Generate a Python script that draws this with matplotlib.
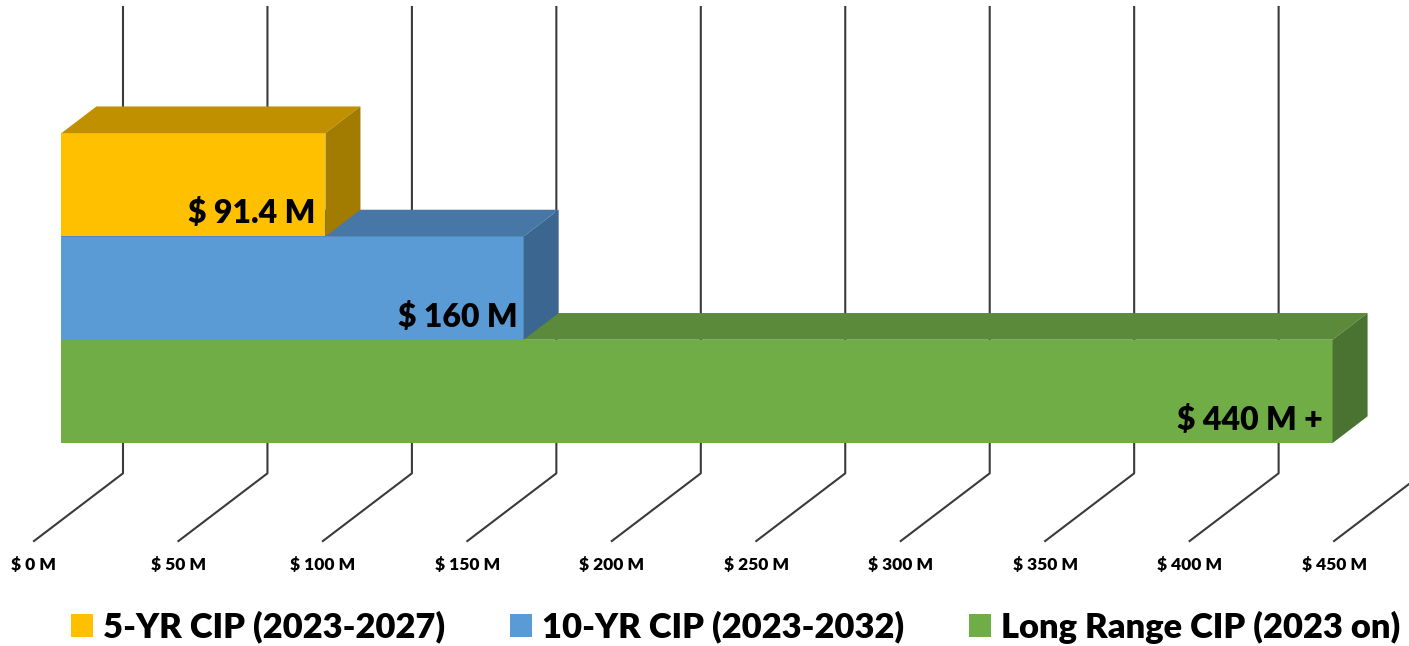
import matplotlib
matplotlib.use("Agg")
import matplotlib.pyplot as plt
from matplotlib.patches import Polygon, Patch
from matplotlib.lines import Line2D
from matplotlib.transforms import IdentityTransform
import numpy as np

# ---- data ----
series = ["5-YR CIP (2023-2027)", "10-YR CIP (2023-2032)", "Long Range CIP (2023 on)"]
values = [91.4, 160, 440]
value_labels = ["\\$ 91.4 M", "\\$ 160 M", "\\$ 440 M +"]
ticks = [0, 50, 100, 150, 200, 250, 300, 350, 400, 450]
tick_labels = ["\\$ 0 M", "\\$ 50 M", "\\$ 100 M", "\\$ 150 M", "\\$ 200 M",
               "\\$ 250 M", "\\$ 300 M", "\\$ 350 M", "\\$ 400 M", "\\$ 450 M"]

# ---- style ----
front_c = ["#FFC000", "#5B9BD5", "#70AD47"]
top_c = ["#C09000", "#4677A7", "#5A8A3A"]
side_c = ["#A27C00", "#3A6690", "#4A7230"]
grid_c = "#3a3a3a"
FONT = "Lato"
WEIGHT = "heavy"

W, H = 1409, 646
fig = plt.figure(figsize=(W / 100, H / 100), dpi=100)
ax = fig.add_axes([0, 0, 1, 1])
ax.set_xlim(-21.25, 466.45)
ax.set_ylim(-2.465, 3.789)
ax.axis("off")

# bar positions (top to bottom: 5yr, 10yr, long range)
ypos = [2, 1, 0]

T = ax.transData
ID = IdentityTransform()
bar_off = np.array([35.0, 26.7])     # depth of bars (px)
wall_off = np.array([61.6, -30.3])   # back wall relative to bar front plane bottom
floor_off = np.array([-27.4, -98.0]) # floor front edge relative to bar front plane bottom

def D(v, y):
    return np.array(T.transform((v, y)))

# gridlines (back wall + floor)
for t, lab in zip(ticks, tick_labels):
    base = D(t, -0.5)
    bx = base[0] + wall_off[0]
    wb = base[1] + wall_off[1]
    fx, fy = base + floor_off
    ax.add_line(Line2D([bx, bx, fx], [H - 7, wb, fy], transform=ID,
                       color=grid_c, lw=1.5, zorder=1, clip_on=False))
    ax.text(fx, fy - 24, lab, transform=ID, ha="center", va="center",
            fontsize=12.5, fontweight=WEIGHT, family=FONT, color="black")

# bars: draw bottom bar first so upper bars occlude top faces
order = [2, 1, 0]
rects = ax.barh([ypos[i] for i in order], [values[i] for i in order], height=1.0,
                color=[front_c[i] for i in order], left=0)
pads = [10, 6, 10]
for k, i in enumerate(order):
    z = 3 + 2 * k
    rects[k].set_zorder(z)
    v, y = values[i], ypos[i]
    fl, fr = D(0, y + 0.5), D(v, y + 0.5)
    br_bot = D(v, y - 0.5)
    top = Polygon([fl, fr, fr + bar_off, fl + bar_off], closed=True, transform=ID,
                  facecolor=top_c[i], edgecolor="none", zorder=z)
    side = Polygon([br_bot, fr, fr + bar_off, br_bot + bar_off], closed=True, transform=ID,
                   facecolor=side_c[i], edgecolor="none", zorder=z)
    ax.add_patch(top)
    ax.add_patch(side)
    lp = D(v, y - 0.5)
    ax.text(lp[0] - pads[i], lp[1] + 8, value_labels[i], transform=ID, ha="right",
            va="bottom", fontsize=23, fontweight=WEIGHT, family=FONT,
            color="black", zorder=z + 1)

# legend
handles = [Patch(facecolor=c, edgecolor="none") for c in front_c]
fs = 24.8
fpx = fs * 100 / 72
fig.legend(handles, series, loc="center left", ncol=3,
           bbox_to_anchor=(71 / W, (H - 627) / H), frameon=False,
           prop={"family": FONT, "weight": WEIGHT, "size": fs},
           handlelength=22 / fpx, handleheight=22 / fpx,
           handletextpad=10 / fpx, columnspacing=65 / fpx,
           borderpad=0, borderaxespad=0)

fig.savefig("out.png", dpi=100)
